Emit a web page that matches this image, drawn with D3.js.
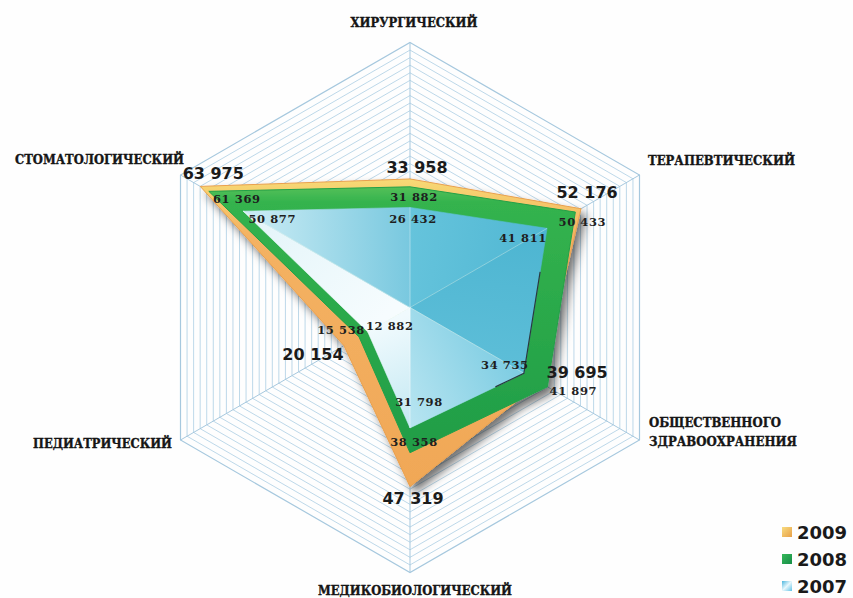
<!DOCTYPE html>
<html><head><meta charset="utf-8">
<script src="https://cdn.jsdelivr.net/npm/d3@7"></script>
<style>html,body{margin:0;padding:0;background:#fff;} svg{display:block}</style>
</head><body>
<svg id="chart" width="853" height="598"></svg>
<script>
// ---------- DATA ----------
const axes = ["ХИРУРГИЧЕСКИЙ", "ТЕРАПЕВТИЧЕСКИЙ", "ОБЩЕСТВЕННОГО ЗДРАВООХРАНЕНИЯ", "МЕДИКОБИОЛОГИЧЕСКИЙ", "ПЕДИАТРИЧЕСКИЙ", "СТОМАТОЛОГИЧЕСКИЙ"];
const years = ["2009", "2008", "2007"];
const values2009 = [33958, 52176, 39695, 47319, 20154, 63975];
const values2008 = [31882, 50433, 41897, 38358, 15538, 61369];
const values2007 = [26432, 41811, 34735, 31798, 12882, 50877];
const gridMax = 70000;
const gridStep = 2000;

// ---------- LAYOUT / STYLE ----------
const cx = 410, cy = 307.5, R = 265;
const axisLabelLayout = [
  {dx: 4, dy: -20, anchor: "middle", w: [127]},
  {dx: 8.5, dy: -14, anchor: "start", w: [147]},
  {dx: 9.5, dy: -17, anchor: "start", w: [132, 148]},
  {dx: 5, dy: 18, anchor: "middle", w: [194]},
  {dx: -8.5, dy: 4, anchor: "end", w: [139]},
  {dx: 3.5, dy: -15, anchor: "end", w: [169]}
];
const valueLabelOffsets = {
  "2009": [[7,-11],[6,-16],[37,-10],[3,12],[-31,9],[13,-13]],
  "2008": [[4,10],[7,10],[26,4],[4,-11],[-18,-7],[28,8]],
  "2007": [[3,12],[-24,10],[-19,-8],[9,-26],[22,-6],[29,8]]
};
// gradient colours of each 2007 facet, from its first corner to its second
const faceColors2007 = [
  ["#66c4dc", "#50b7d3"],
  ["#4db5d1", "#5dbed8"],
  ["#7ccce2", "#b8e5f1"],
  ["#c2e8f3", "#f0fafd"],
  ["#f6fcfe", "#e2f4f9"],
  ["#cdedf5", "#78c8df"]
];

const svg = d3.select("#chart");
svg.append("rect").attr("width", 853).attr("height", 598).attr("fill", "#fefefe");

const defs = svg.append("defs");
const f = defs.append("filter").attr("id", "shadow").attr("x", "-20%").attr("y", "-20%").attr("width", "140%").attr("height", "140%");
f.append("feDropShadow").attr("dx", 5).attr("dy", 6).attr("stdDeviation", 5).attr("flood-color", "#000").attr("flood-opacity", 0.55);

function linGrad(id, x1, y1, x2, y2, stops, units) {
  const g = defs.append("linearGradient").attr("id", id)
    .attr("x1", x1).attr("y1", y1).attr("x2", x2).attr("y2", y2);
  if (units) g.attr("gradientUnits", units);
  stops.forEach(s => g.append("stop").attr("offset", s[0]).attr("stop-color", s[1]));
}
linGrad("g2009", 0, 170, 0, 500, [[0, "#f7e27a"], [0.1, "#f6c66a"], [0.2, "#f4b263"], [1, "#f0a756"]], "userSpaceOnUse");
linGrad("g2008", 0, 180, 0, 460, [[0, "#63c65c"], [0.08, "#34b34e"], [1, "#1f9c46"]], "userSpaceOnUse");
linGrad("leg2009", 0, 0, 1, 1, [[0, "#f8dc80"], [1, "#e8a048"]]);
linGrad("leg2008", 0, 0, 1, 1, [[0, "#36b85a"], [1, "#178e48"]]);
linGrad("leg2007", 0, 0, 1, 1, [[0, "#4bb6de"], [0.5, "#e8f7fc"], [1, "#5ec2e6"]]);

// ---------- SCALES ----------
const rScale = d3.scaleLinear().domain([0, gridMax]).range([0, R]);
const aScale = d3.scalePoint().domain(axes).range([0, 2 * Math.PI * 5 / 6]);
function pt(axis, v) {
  const a = aScale(axis), r = rScale(v);
  return [cx + r * Math.sin(a), cy - r * Math.cos(a)];
}
const closed = d3.line().curve(d3.curveLinearClosed);
const fmt = d3.formatLocale({decimal: ",", thousands: " ", grouping: [3], currency: ["", ""]}).format(",d");

// ---------- GRID ----------
const grid = svg.append("g");
grid.selectAll("path.ring").data(d3.range(gridStep, gridMax + 1, gridStep)).join("path")
  .attr("d", v => closed(axes.map(a => pt(a, v))))
  .attr("fill", "none")
  .attr("stroke", v => v === gridMax ? "#a6c8de" : "#b6d4e7")
  .attr("stroke-width", v => v === gridMax ? 1.2 : 0.9);
grid.selectAll("line.spoke").data(axes).join("line")
  .attr("x1", cx).attr("y1", cy)
  .attr("x2", a => pt(a, gridMax)[0]).attr("y2", a => pt(a, gridMax)[1])
  .attr("stroke", "#a6c8de").attr("stroke-width", 1);

// ---------- SERIES ----------
const pts2009 = axes.map((a, i) => pt(a, values2009[i]));
const pts2008 = axes.map((a, i) => pt(a, values2008[i]));
const pts2007 = axes.map((a, i) => pt(a, values2007[i]));

const shapes = svg.append("g").attr("filter", "url(#shadow)");
shapes.append("path").attr("d", closed(pts2009)).attr("fill", "url(#g2009)")
  .attr("stroke", "#e9a04e").attr("stroke-width", 1);
shapes.append("path").attr("d", closed(pts2008)).attr("fill", "url(#g2008)")
  .attr("stroke", "#23a048").attr("stroke-width", 1);

axes.forEach((a, i) => {
  const p0 = pts2007[i], p1 = pts2007[(i + 1) % axes.length];
  linGrad("face" + i, p0[0], p0[1], p1[0], p1[1],
    [[0, faceColors2007[i][0]], [1, faceColors2007[i][1]]], "userSpaceOnUse");
});
const g07 = svg.append("g");
g07.selectAll("path.face").data(axes).join("path")
  .attr("d", (a, i) => closed([[cx, cy], pts2007[i], pts2007[(i + 1) % axes.length]]))
  .attr("fill", (a, i) => "url(#face" + i + ")")
  .attr("stroke", (a, i) => "url(#face" + i + ")").attr("stroke-width", 0.6);
g07.selectAll("line.facet").data(axes).join("line")
  .attr("x1", cx).attr("y1", cy)
  .attr("x2", (a, i) => pts2007[i][0]).attr("y2", (a, i) => pts2007[i][1])
  .attr("stroke", "#ffffff").attr("stroke-opacity", 0.35).attr("stroke-width", 1);
// dark edge along the right side of the 2007 plate
const edge = [d3.interpolate(pts2007[1], pts2007[2])(0.3), pts2007[2], d3.interpolate(pts2007[2], pts2007[3])(0.25)];
g07.append("path").attr("d", d3.line()(edge)).attr("fill", "none")
  .attr("stroke", "#2b3a40").attr("stroke-width", 1.2);

// ---------- VALUE LABELS ----------
function valueLabels(vals, pts, year, big) {
  svg.append("g").selectAll("text").data(vals).join("text")
    .attr("x", (v, i) => pts[i][0] + valueLabelOffsets[year][i][0])
    .attr("y", (v, i) => pts[i][1] + valueLabelOffsets[year][i][1])
    .attr("text-anchor", "middle").attr("dominant-baseline", "central")
    .attr("font-family", big ? "DejaVu Sans" : "DejaVu Serif")
    .attr("font-weight", "bold")
    .attr("font-size", big ? 16 : 11.5)
    .attr("letter-spacing", big ? 0 : 0.6)
    .attr("fill", big ? "#1b1b1b" : "#1e1e1e")
    .text(v => fmt(v));
}
valueLabels(values2007, pts2007, "2007", false);
valueLabels(values2008, pts2008, "2008", false);
valueLabels(values2009, pts2009, "2009", true);

// ---------- AXIS LABELS ----------
const axG = svg.append("g");
axes.forEach((a, i) => {
  const p = pt(a, gridMax), L = axisLabelLayout[i];
  a.split(" ").forEach((line, j) => {
    axG.append("text")
      .attr("x", p[0] + L.dx).attr("y", p[1] + L.dy + j * 19)
      .attr("text-anchor", L.anchor).attr("dominant-baseline", "central")
      .attr("font-family", "DejaVu Serif").attr("font-weight", "bold").attr("font-size", 12)
      .attr("textLength", L.w[j]).attr("lengthAdjust", "spacingAndGlyphs")
      .attr("fill", "#151515").attr("stroke", "#151515").attr("stroke-width", 0.35)
      .text(line);
  });
});

// ---------- LEGEND ----------
const legY = d3.scalePoint().domain(years).range([532, 586]);
const leg = svg.append("g");
leg.selectAll("rect").data(years).join("rect")
  .attr("x", 782).attr("y", y => legY(y) - 5).attr("width", 10).attr("height", 10)
  .attr("fill", y => "url(#leg" + y + ")");
leg.selectAll("text").data(years).join("text")
  .attr("x", 797).attr("y", y => legY(y)).attr("dominant-baseline", "central")
  .attr("font-family", "DejaVu Sans").attr("font-weight", "bold").attr("font-size", 18)
  .attr("fill", "#1a1a1a").text(y => y);
</script>
</body></html>
